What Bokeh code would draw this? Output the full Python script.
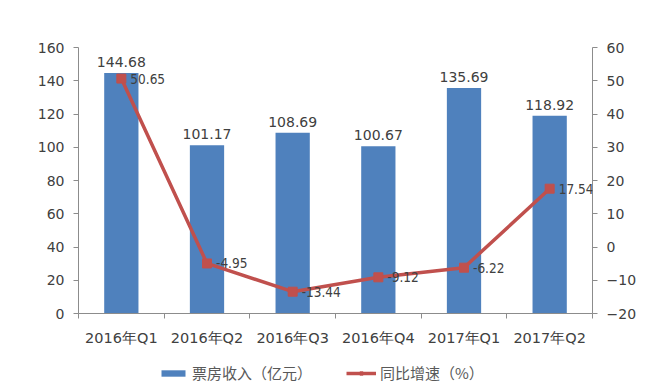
from bokeh.plotting import figure
from bokeh.layouts import column
from bokeh.models import Range1d, LinearAxis, FixedTicker, Legend, LegendItem, ColumnDataSource, LabelSet
from bokeh.core.properties import value
from bokeh.embed import file_html
from bokeh.resources import INLINE

categories = ["2016年Q1", "2016年Q2", "2016年Q3", "2016年Q4", "2017年Q1", "2017年Q2"]
revenue = [144.68, 101.17, 108.69, 100.67, 135.69, 118.92]
growth = [50.65, -4.95, -13.44, -9.12, -6.22, 17.54]
left_ticks = [0, 20, 40, 60, 80, 100, 120, 140, 160]
right_ticks = [-20, -10, 0, 10, 20, 30, 40, 50, 60]
series_names = ["票房收入（亿元）", "同比增速（%）"]

FONT = "DejaVu Sans"
NARROW = "'DejaVu Sans Condensed', 'Open Sans'"
CJK = "Noto Sans CJK SC"
TXT = "#404040"
AXC = "#8c8c8c"
BLUE = "#4F81BD"
RED = "#C0504D"

xs = [i + 0.5 for i in range(len(categories))]
src = ColumnDataSource(dict(
    x=xs, rev=revenue, gr=growth,
    rev_lbl=["%.2f" % v for v in revenue],
    gr_lbl=["%.2f" % v for v in growth],
))

p = figure(frame_width=514, frame_height=266, output_backend="svg", toolbar_location=None,
           x_range=Range1d(0, len(categories)), y_range=Range1d(0, 160),
           min_border_left=78, min_border_right=60, min_border_top=47, min_border_bottom=45)
p.extra_y_ranges = {"right": Range1d(-20, 60)}
p.outline_line_color = None
p.xgrid.visible = False
p.ygrid.visible = False
p.background_fill_color = "white"
p.border_fill_color = "white"

bars = p.vbar(x="x", top="rev", width=0.4, source=src, fill_color=BLUE, line_color=None)
line = p.line(x="x", y="gr", source=src, y_range_name="right", line_color=RED, line_width=3.5)
pts = p.scatter(x="x", y="gr", source=src, y_range_name="right", marker="square", size=9,
                fill_color=RED, line_color=RED)

p.add_layout(LabelSet(x="x", y="rev", text="rev_lbl", source=src, text_align="center",
                      text_baseline="bottom", y_offset=6, text_font=value(FONT),
                      text_font_size="14px", text_color=TXT))
p.add_layout(LabelSet(x="x", y="gr", text="gr_lbl", source=src, y_range_name="right",
                      text_align="left", text_baseline="middle", x_offset=9,
                      text_font=value(NARROW), text_font_size="13.5px", text_color=TXT))

# axes
xa = p.xaxis[0]
xa.ticker = FixedTicker(ticks=xs, minor_ticks=list(range(len(categories) + 1)))
xa.major_label_overrides = {x: c for x, c in zip(xs, categories)}
xa.major_tick_line_color = None
xa.major_tick_in = 0
xa.major_tick_out = 0
xa.minor_tick_line_color = AXC
xa.minor_tick_in = 0
xa.minor_tick_out = 5
xa.axis_line_color = AXC
xa.major_label_text_font = FONT
xa.major_label_text_font_size = "14.5px"
xa.major_label_text_color = TXT
xa.major_label_standoff = 11

ya = p.yaxis[0]
ya.ticker = FixedTicker(ticks=left_ticks)
ya.minor_tick_line_color = None
ya.major_tick_in = 0
ya.major_tick_out = 5
ya.axis_line_color = AXC
ya.major_tick_line_color = AXC
ya.major_label_text_font = FONT
ya.major_label_text_font_size = "14px"
ya.major_label_text_color = TXT
ya.major_label_standoff = 9

ra = LinearAxis(y_range_name="right", ticker=FixedTicker(ticks=right_ticks))
ra.minor_tick_line_color = None
ra.major_tick_in = 0
ra.major_tick_out = 5
ra.axis_line_color = AXC
ra.major_tick_line_color = AXC
ra.major_label_text_font = FONT
ra.major_label_text_font_size = "14px"
ra.major_label_text_color = TXT
ra.major_label_standoff = 9
p.add_layout(ra, "right")

# legend strip below the chart: same series, hidden renderers so only the legend shows
n = len(categories)
lg = figure(width=652, height=30, output_backend="svg", toolbar_location=None,
            min_border=0, x_range=Range1d(n + 10, n + 11), y_range=Range1d(1000, 1001))
lg.axis.visible = False
lg.grid.visible = False
lg.outline_line_color = None
lg.extra_y_ranges = {"right": Range1d(1000, 1001)}
lb = lg.vbar(x="x", top="rev", width=0.4, source=src, fill_color=BLUE, line_color=None)
ll = lg.line(x="x", y="gr", source=src, y_range_name="right", line_color=RED, line_width=3.5)
lp = lg.scatter(x="x", y="gr", source=src, y_range_name="right", marker="square", size=9,
                fill_color=RED, line_color=RED)
for r in (lb, ll, lp):
    r.visible = False
legend = Legend(items=[LegendItem(label=series_names[0], renderers=[lb]),
                       LegendItem(label=series_names[1], renderers=[ll, lp])],
                orientation="horizontal", location=(80, 5),
                label_text_font=CJK, label_text_font_size="15px", label_text_color="#595959",
                glyph_width=30, glyph_height=8, spacing=34, label_standoff=4,
                inactive_fill_alpha=0,
                border_line_color=None, background_fill_alpha=0, padding=0, margin=0)
lg.add_layout(legend, "center")

layout = column(p, lg, spacing=0)
open("out.html", "w").write(file_html(layout, INLINE))
